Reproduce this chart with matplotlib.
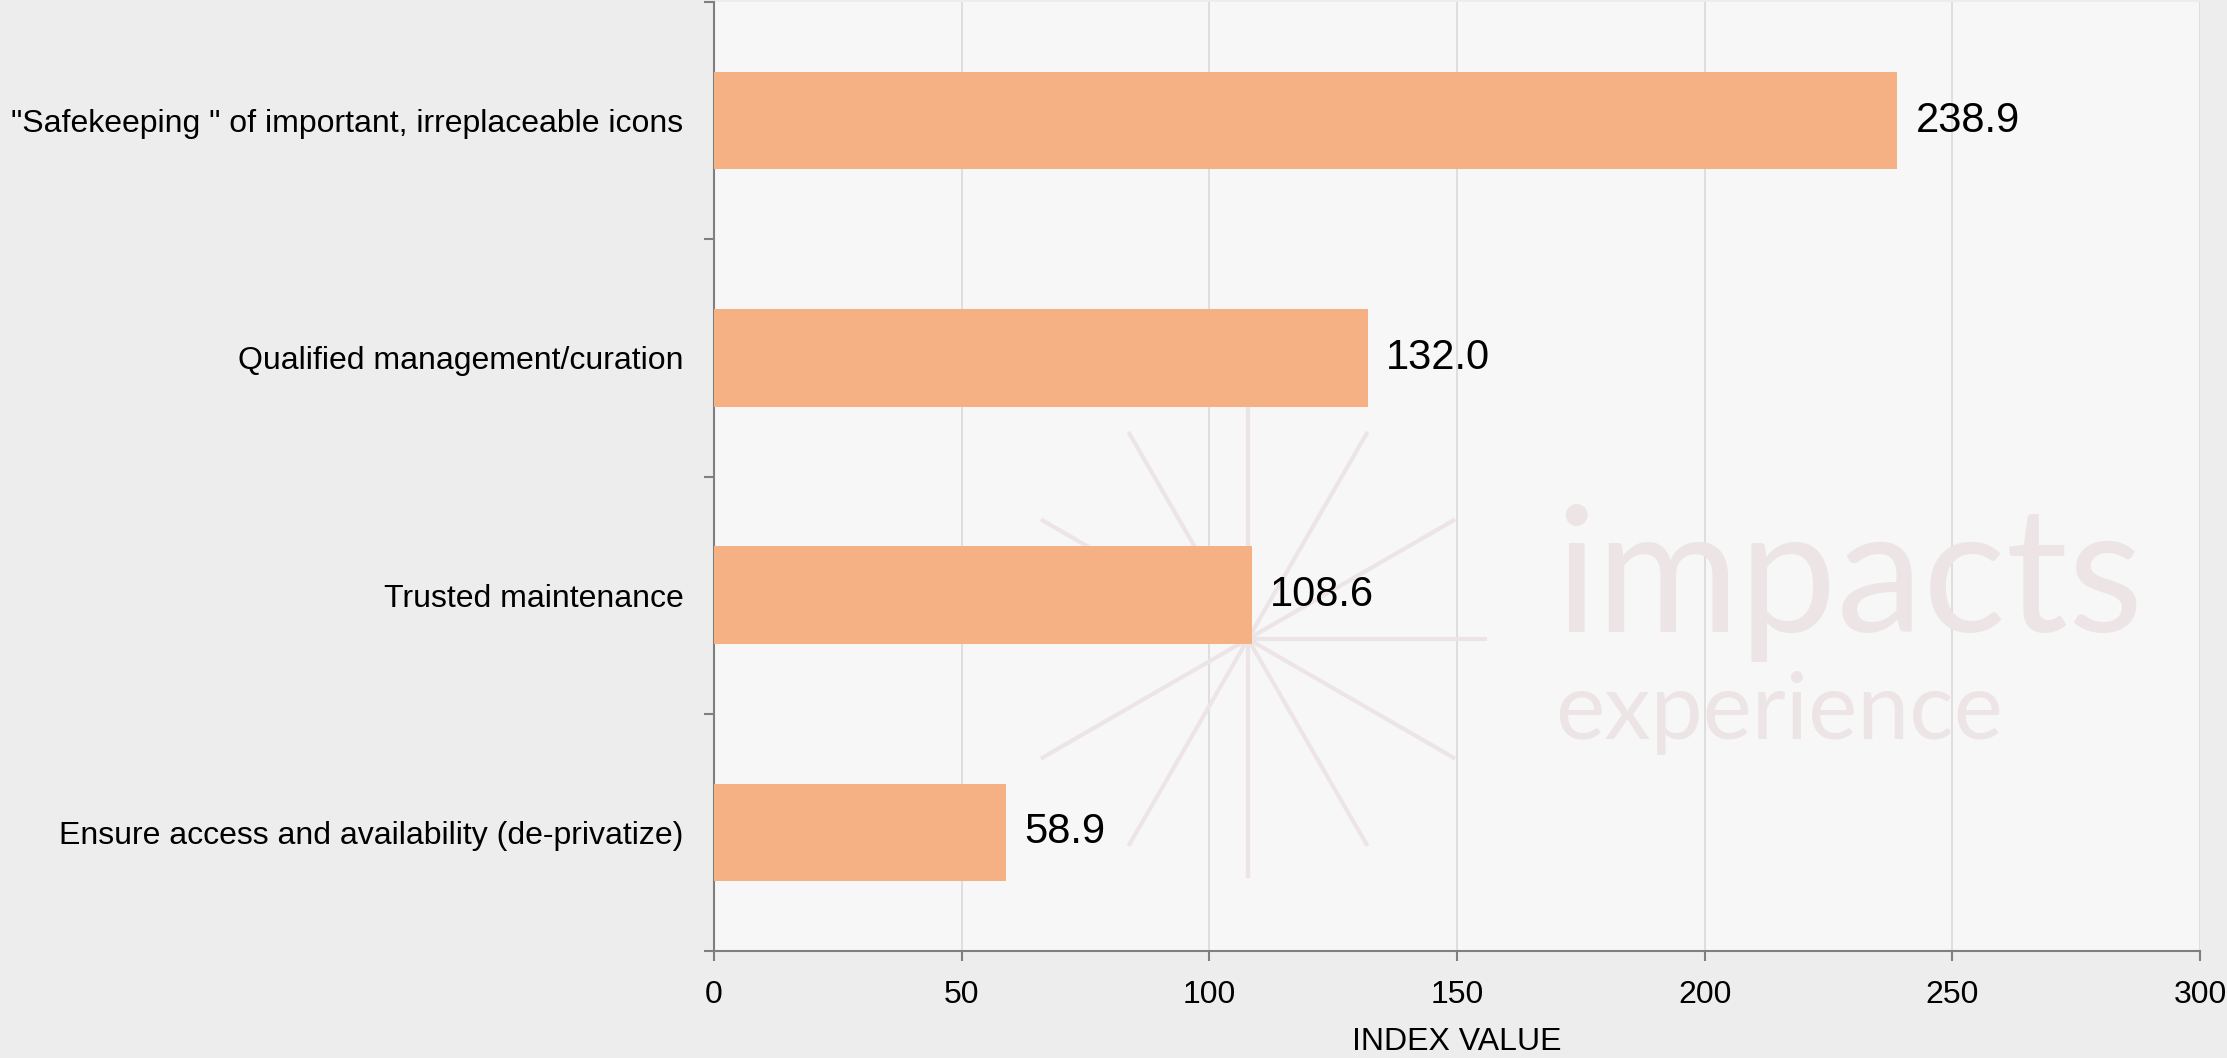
import numpy as np
import matplotlib
matplotlib.use("Agg")
import matplotlib.pyplot as plt
from matplotlib import font_manager as fm
from matplotlib.lines import Line2D

categories = ['"Safekeeping " of important, irreplaceable icons',
              'Qualified management/curation',
              'Trusted maintenance',
              'Ensure access and availability (de-privatize)']
values = [238.9, 132.0, 108.6, 58.9]
xticks = [0, 50, 100, 150, 200, 250, 300]
xlabel = 'INDEX VALUE'

names = {f.name for f in fm.fontManager.ttflist}
font = 'Liberation Sans Narrow' if 'Liberation Sans Narrow' in names else 'Liberation Sans'
plt.rcParams['font.family'] = [font, 'DejaVu Sans']

fig = plt.figure(figsize=(22.27, 10.58), dpi=100, facecolor='#ededed')
ax = fig.add_axes([714/2227, 1 - 951/1058, (2200-714)/2227, (951-2)/1058])
ax.set_facecolor('#f7f7f7')

# watermark (decoration), drawn inside the axes above the background, below the bars
wm = '#ede5e5'
cx, cy = 1248/2227, 1 - 639/1058
L = 237
for k in range(12):
    a = np.deg2rad(30*k)
    ax.add_line(Line2D([cx, cx + L*np.cos(a)/2227], [cy, cy + L*np.sin(a)/1058],
                       color=wm, lw=3, zorder=1.5, transform=fig.transFigure, clip_on=False))
ax.text(1555/2227, 1 - 632/1058, 'impacts', fontsize=125, family='Lato',
        color=wm, ha='left', va='baseline', zorder=1.6, transform=fig.transFigure)
ax.text(1555/2227, 1 - 739/1058, 'experience', fontsize=67, family='Lato',
        color=wm, ha='left', va='baseline', zorder=1.6, transform=fig.transFigure)

y = np.arange(len(categories))
ax.barh(y, values, height=0.41, color='#f5b183', zorder=3)
for yi, v in zip(y, values):
    ax.annotate(f'{v:.1f}', (v, yi), xytext=(13, 0), textcoords='offset points',
                va='center', ha='left', fontsize=30, color='black', zorder=4)

ax.set_ylim(len(categories) - 0.5, -0.5)
ax.set_xlim(0, 300)
ax.set_yticks(y)
ax.set_yticklabels(categories, fontsize=23)
ax.set_yticks(np.arange(-0.5, len(categories)), minor=True)
ax.tick_params(axis='y', which='major', length=0, pad=22)
ax.tick_params(axis='y', which='minor', length=7, width=1.5, color='#7f7f7f', direction='out')
ax.set_xticks(xticks)
ax.set_xticklabels([str(t) for t in xticks], fontsize=23)
ax.tick_params(axis='x', length=7, width=1.5, color='#7f7f7f', pad=14)
ax.set_xlabel(xlabel, fontsize=23, labelpad=12)
ax.grid(axis='x', color='#d9d9d9', lw=1.2, zorder=1)
ax.set_axisbelow(True)
for s in ['top', 'right']:
    ax.spines[s].set_visible(False)
for s in ['left', 'bottom']:
    ax.spines[s].set_color('#7f7f7f')
    ax.spines[s].set_linewidth(1.5)

fig.savefig('out.png', dpi=100, facecolor=fig.get_facecolor())
